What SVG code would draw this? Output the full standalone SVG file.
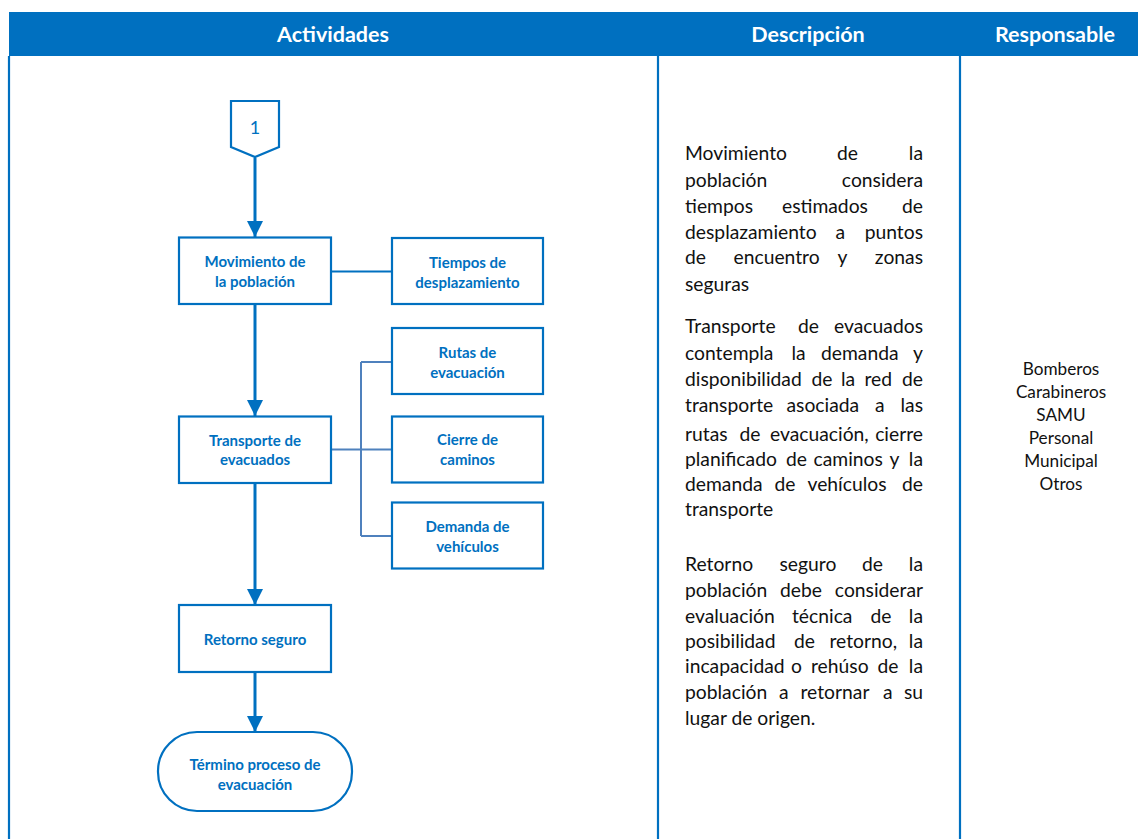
<svg xmlns="http://www.w3.org/2000/svg" width="1138" height="839" viewBox="0 0 1138 839">
<defs>
<marker id="arr" markerUnits="userSpaceOnUse" markerWidth="18" markerHeight="16" refX="16" refY="8" orient="auto">
<path d="M0,0 L16,8 L0,16 Z" fill="#0070C0"/>
</marker>
<style>
.hdr{font-family:Lato,"Liberation Sans",sans-serif;font-weight:bold;font-size:21.5px;fill:#fff;text-anchor:middle}
.box{fill:#fff;stroke:#0070C0;stroke-width:2.2}
.bt{font-family:Lato,"Liberation Sans",sans-serif;font-weight:bold;font-size:15px;fill:#0070C0;text-anchor:middle}
.flow{stroke:#0070C0;stroke-width:3;fill:none}
.link{stroke:#0070C0;stroke-width:2;fill:none}
.branch{stroke:#4F81BD;stroke-width:2;fill:none}
.desc{font-family:Lato,"Liberation Sans",sans-serif;font-size:19.3px;fill:#111}
.resp{font-family:Lato,"Liberation Sans",sans-serif;font-size:17.2px;fill:#111;text-anchor:middle}
.grid{stroke:#0070C0;stroke-width:2.2}
.e{text-anchor:end}
</style>
</defs>
<rect width="1138" height="839" fill="#fff"/>
<g id="table">
<rect x="9" y="12" width="1129" height="44" fill="#0070C0"/>
<text class="hdr" x="333" y="42">Actividades</text>
<text class="hdr" x="808" y="42">Descripción</text>
<text class="hdr" x="1055" y="42">Responsable</text>
<line class="grid" x1="9" y1="56" x2="9" y2="839"/>
<line class="grid" x1="658" y1="56" x2="658" y2="839"/>
<line class="grid" x1="960" y1="56" x2="960" y2="839"/>
</g>
<g id="connectors">
<line class="flow" x1="255" y1="158" x2="255" y2="237" marker-end="url(#arr)"/>
<line class="flow" x1="255" y1="304" x2="255" y2="416" marker-end="url(#arr)"/>
<line class="flow" x1="255" y1="483" x2="255" y2="605" marker-end="url(#arr)"/>
<line class="flow" x1="255" y1="672" x2="255" y2="732" marker-end="url(#arr)"/>
<line class="link" x1="331" y1="271.5" x2="392" y2="271.5"/>
<path class="branch" d="M331,449.5 H392 M361,362 V536 M361,362 H392 M361,536 H392"/>
</g>
<g id="n-conector">
<polygon class="box" points="231,101 279,101 279,147 255,157 231,147"/>
<text x="255" y="134" font-family="Lato,'Liberation Sans',sans-serif" font-size="18" fill="#0070C0" text-anchor="middle">1</text>
</g>
<g id="n-movimiento">
<rect class="box" x="179" y="237.5" width="152" height="66.5"/>
<text class="bt" x="255" y="267">Movimiento de</text>
<text class="bt" x="255" y="287">la población</text>
</g>
<g id="n-tiempos">
<rect class="box" x="392" y="238" width="151" height="66"/>
<text class="bt" x="467.5" y="267.5">Tiempos de</text>
<text class="bt" x="467.5" y="287.5">desplazamiento</text>
</g>
<g id="n-rutas">
<rect class="box" x="392" y="328" width="151" height="66"/>
<text class="bt" x="467.5" y="358">Rutas de</text>
<text class="bt" x="467.5" y="377.5">evacuación</text>
</g>
<g id="n-transporte">
<rect class="box" x="179" y="416.5" width="152" height="66.5"/>
<text class="bt" x="255" y="445.5">Transporte de</text>
<text class="bt" x="255" y="465">evacuados</text>
</g>
<g id="n-cierre">
<rect class="box" x="392" y="416.5" width="151" height="66"/>
<text class="bt" x="467.5" y="445">Cierre de</text>
<text class="bt" x="467.5" y="465">caminos</text>
</g>
<g id="n-demanda">
<rect class="box" x="392" y="502.5" width="151" height="66"/>
<text class="bt" x="467.5" y="532">Demanda de</text>
<text class="bt" x="467.5" y="551.5">vehículos</text>
</g>
<g id="n-retorno">
<rect class="box" x="179" y="605" width="152" height="67"/>
<text class="bt" x="255" y="645">Retorno seguro</text>
</g>
<g id="n-termino">
<rect class="box" x="158" y="732" width="194" height="79" rx="39" ry="39"/>
<text class="bt" x="255" y="770">Término proceso de</text>
<text class="bt" x="255" y="789.5">evacuación</text>
</g>
<g id="descripcion" class="desc">
<text y="160"><tspan x="685">Movimiento</tspan><tspan x="837">de</tspan><tspan x="923" class="e">la</tspan></text>
<text y="187"><tspan x="685">población</tspan><tspan x="923" class="e">considera</tspan></text>
<text y="213"><tspan x="685">tiempos</tspan><tspan x="782">estimados</tspan><tspan x="923" class="e">de</tspan></text>
<text y="239"><tspan x="685">desplazamiento</tspan><tspan x="835.5">a</tspan><tspan x="923" class="e">puntos</tspan></text>
<text y="264"><tspan x="685">de</tspan><tspan x="733.5">encuentro</tspan><tspan x="837.5">y</tspan><tspan x="923" class="e">zonas</tspan></text>
<text y="291"><tspan x="685">seguras</tspan></text>
<text y="333"><tspan x="685">Transporte</tspan><tspan x="798">de</tspan><tspan x="923" class="e">evacuados</tspan></text>
<text y="360"><tspan x="685">contempla</tspan><tspan x="791.5">la</tspan><tspan x="821">demanda</tspan><tspan x="923" class="e">y</tspan></text>
<text y="386"><tspan x="685">disponibilidad</tspan><tspan x="811.5">de</tspan><tspan x="841">la</tspan><tspan x="864.5">red</tspan><tspan x="923" class="e">de</tspan></text>
<text y="412"><tspan x="685">transporte</tspan><tspan x="786.5">asociada</tspan><tspan x="875">a</tspan><tspan x="923" class="e">las</tspan></text>
<text y="441"><tspan x="685">rutas</tspan><tspan x="739.5">de</tspan><tspan x="770">evacuación,</tspan><tspan x="923" class="e">cierre</tspan></text>
<text y="466"><tspan x="685">planificado</tspan><tspan x="786">de</tspan><tspan x="813.5">caminos</tspan><tspan x="889.5">y</tspan><tspan x="923" class="e">la</tspan></text>
<text y="491"><tspan x="685">demanda</tspan><tspan x="774.5">de</tspan><tspan x="807.5">vehículos</tspan><tspan x="923" class="e">de</tspan></text>
<text y="516"><tspan x="685">transporte</tspan></text>
<text y="571"><tspan x="685">Retorno</tspan><tspan x="779.5">seguro</tspan><tspan x="862">de</tspan><tspan x="923" class="e">la</tspan></text>
<text y="597"><tspan x="685">población</tspan><tspan x="780">debe</tspan><tspan x="923" class="e">considerar</tspan></text>
<text y="623"><tspan x="685">evaluación</tspan><tspan x="792">técnica</tspan><tspan x="870.5">de</tspan><tspan x="923" class="e">la</tspan></text>
<text y="648"><tspan x="685">posibilidad</tspan><tspan x="794">de</tspan><tspan x="829.5">retorno,</tspan><tspan x="923" class="e">la</tspan></text>
<text y="673"><tspan x="685">incapacidad</tspan><tspan x="791">o</tspan><tspan x="811">rehúso</tspan><tspan x="877.5">de</tspan><tspan x="923" class="e">la</tspan></text>
<text y="699"><tspan x="685">población</tspan><tspan x="779">a</tspan><tspan x="800.5">retornar</tspan><tspan x="883">a</tspan><tspan x="923" class="e">su</tspan></text>
<text y="725"><tspan x="685">lugar de origen.</tspan></text>
</g>
<g id="responsable" class="resp">
<text x="1061" y="374.5">Bomberos</text>
<text x="1061" y="398">Carabineros</text>
<text x="1061" y="421">SAMU</text>
<text x="1061" y="443.5">Personal</text>
<text x="1061" y="466.5">Municipal</text>
<text x="1061" y="489.5">Otros</text>
</g>
</svg>
